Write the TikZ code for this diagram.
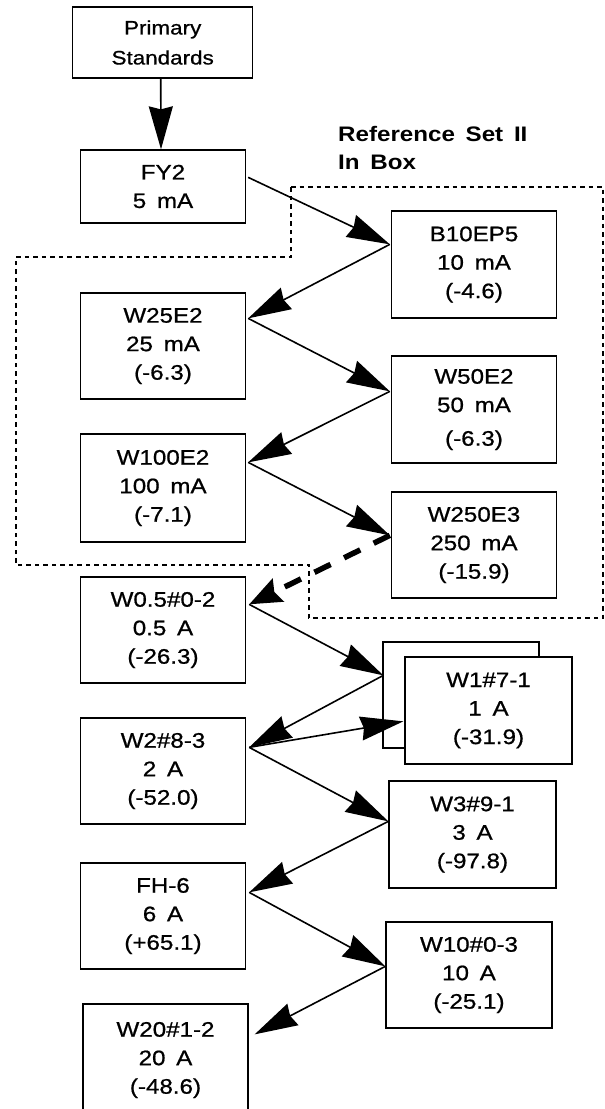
\documentclass[tikz,border=0pt]{standalone}
\usepackage{fontspec}
\setmainfont{Liberation Sans}[FakeStretch=1.15, WordSpace=1.6, FakeBold=0.8, BoldFeatures={FakeBold=0}]
\usetikzlibrary{arrows.meta,calc}
\begin{document}
\begin{tikzpicture}[x=1pt,y=-1pt,
  box/.style={draw, line width=1.3pt, fill=white, minimum width=165pt, minimum height=106pt,
    inner sep=0pt, align=center, font=\fontsize{21}{28.5}\selectfont},
  conn/.style={line width=1.6pt, -{Stealth[length=43pt,width=24pt,inset=3pt]}},
  dconn/.style={line width=5.5pt, dash pattern=on 18pt off 15pt, -{Stealth[length=32pt,width=25pt,inset=4pt]}},
  fence/.style={line width=2.2pt, dash pattern=on 4.5pt off 4pt},
  lbl/.style={font=\fontsize{21}{28.5}\selectfont\bfseries, align=left, inner sep=0pt, anchor=north west}
 ]
\useasboundingbox (0,0) rectangle (605,1109);
\clip (0,0) rectangle (605,1109);

% boundary of Reference Set II
\draw[fence] (291,187) -- (603,187) -- (603,618) -- (309,618) -- (309,565)
  -- (16,565) -- (16,257) -- (291,257) -- cycle;

\node[lbl] (title) at (338,126) {Reference Set II\\In Box};

% boxes
\node[box, minimum width=180pt, minimum height=71pt, font=\fontsize{19.5}{30}\selectfont] (prim) at (162.7,42.5) {Primary\\Standards};
\node[box, minimum height=73pt] (fy2) at (163,186.5) {FY2\\5 mA};
\node[box, minimum height=107pt] (b10) at (474,264.5) {B10EP5\\10 mA\\(-4.6)};
\node[box] (w25) at (163,346) {W25E2\\25 mA\\(-6.3)};
\node[box, minimum height=107pt] (w50) at (474,409.5) {W50E2\\50 mA\\[5pt](-6.3)};
\node[box, minimum height=108pt] (w100) at (163,488) {W100E2\\100 mA\\(-7.1)};
\node[box] (w250) at (474,545) {W250E3\\250 mA\\(-15.9)};
\node[box] (w05) at (163,630) {W0.5\#0-2\\0.5 A\\(-26.3)};
\node[box, minimum width=156pt] (w1b) at (461,695) {};
\node[box, minimum width=167pt, minimum height=107pt] (w1f) at (488.5,710.5) {W1\#7-1\\1 A\\(-31.9)};
\node[box] (w2) at (163,771) {W2\#8-3\\2 A\\(-52.0)};
\node[box, minimum width=167pt, minimum height=107pt] (w3) at (472.5,834.5) {W3\#9-1\\3 A\\(-97.8)};
\node[box] (fh6) at (163,916) {FH-6\\6 A\\(+65.1)};
\node[box, minimum width=166pt] (w10) at (469,975) {W10\#0-3\\10 A\\(-25.1)};
\node[box, minimum height=112pt] (w20) at (165.5,1060) {W20\#1-2\\20 A\\(-48.6)};

% attachment points
\coordinate (primo) at ($(prim.south)+(-2,0)$);
\coordinate (fy2i) at ($(fy2.north)+(-2,0)$);
\coordinate (fy2o) at ($(fy2.north east)+(2,28)$);
\coordinate (b10i) at ($(b10.north west)+(-1,34)$);
\coordinate (w25o) at ($(w25.north east)+(2,26)$);
\coordinate (w50i) at ($(w50.north west)+(-1,36)$);
\coordinate (w100o) at ($(w100.north east)+(2,29)$);
\coordinate (w250i) at ($(w250.north west)+(-1,44)$);
\coordinate (w05o) at ($(w05.north east)+(3,28)$);
\coordinate (w1bi) at ($(w1b.north west)+(1,34)$);
\coordinate (w1fi) at ($(w1f.north west)+(-1,65)$);
\coordinate (w2o) at ($(w2.north east)+(3,30)$);
\coordinate (w3i) at ($(w3.north west)+(0,41)$);
\coordinate (fh6o) at ($(fh6.north east)+(3,30)$);
\coordinate (w10i) at ($(w10.north west)+(0,45)$);
\coordinate (w20o) at ($(w20.north east)+(6,31)$);

% connectors
\draw[conn] (primo) -- (fy2i);
\draw[conn] (fy2o) -- (b10i);
\draw[conn] (b10i) -- (w25o);
\draw[conn] (w25o) -- (w50i);
\draw[conn] (w50i) -- (w100o);
\draw[conn] (w100o) -- (w250i);
\draw[dconn] (w250i) -- (w05o);
\draw[conn] (w05o) -- (w1bi);
\draw[conn] (w1bi) -- (w2o);
\draw[conn] (w2o) -- (w1fi);
\draw[conn] (w2o) -- (w3i);
\draw[conn] (w3i) -- (fh6o);
\draw[conn] (fh6o) -- (w10i);
\draw[conn] (w10i) -- (w20o);
\end{tikzpicture}
\end{document}
